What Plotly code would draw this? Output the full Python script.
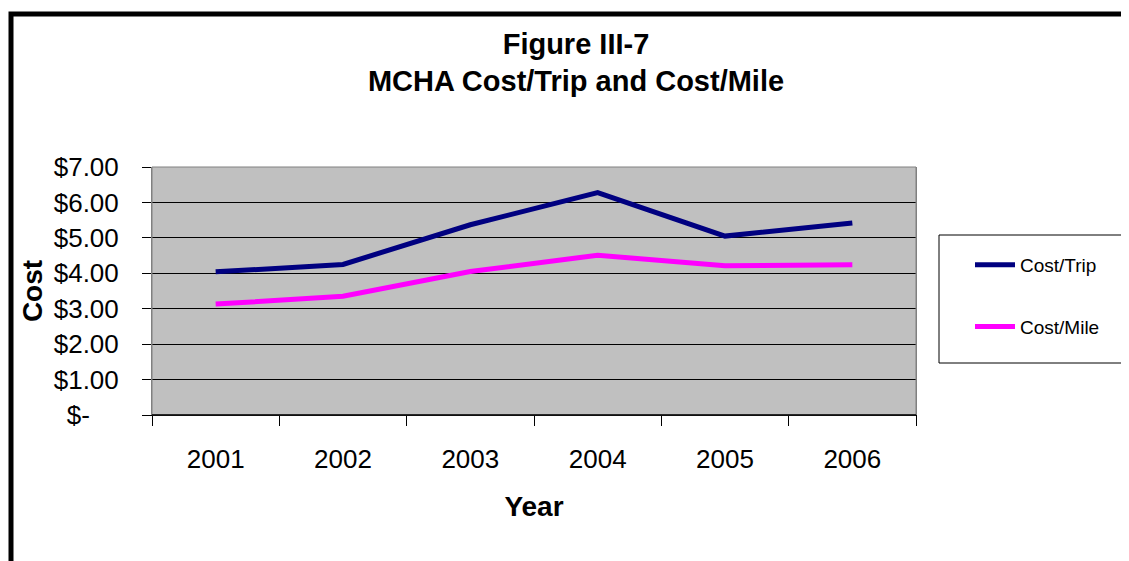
import plotly.graph_objects as go

years = ["2001", "2002", "2003", "2004", "2005", "2006"]
cost_trip = [4.04, 4.25, 5.37, 6.28, 5.05, 5.42]
cost_mile = [3.13, 3.35, 4.05, 4.51, 4.21, 4.24]
y_tickvals = [0, 1, 2, 3, 4, 5, 6, 7]
y_ticktext = ["$-\u00a0\u00a0\u00a0\u00a0", "$1.00", "$2.00", "$3.00", "$4.00", "$5.00", "$6.00", "$7.00"]

OX, OY = 8, 8  # page body margin offset
W, H = 1129, 561
L, R, T, B = 152 - OX, 916 - OX, 167 - OY, 415 - OY


def px(x):
    return (x - OX - L) / (R - L)


def py(y):
    return (B - (y - OY)) / (B - T)


FONT = "Arial, Liberation Sans, sans-serif"

fig = go.Figure()
fig.add_trace(go.Scatter(x=years, y=cost_trip, mode="lines", name="Cost/Trip",
                         line=dict(color="#000080", width=5), legendgroup="a"))
fig.add_trace(go.Scatter(x=years, y=cost_mile, mode="lines", name="Cost/Mile",
                         line=dict(color="#FF00FF", width=5), legendgroup="b"))

fig.update_layout(
    width=W, height=H,
    margin=dict(l=L, r=W - R, t=T, b=H - B),
    paper_bgcolor="white",
    plot_bgcolor="#C0C0C0",
    font=dict(family=FONT, color="black"),
    title=dict(text="<b>Figure III-7<br>MCHA Cost/Trip and Cost/Mile</b>",
               x=(576 - OX) / W, xanchor="center", y=1 - 45.5 / H, yanchor="middle",
               font=dict(size=29, family=FONT, color="black")),
    showlegend=True,
    legend=dict(x=px(970), xanchor="left", y=py(246), yanchor="top",
                bgcolor="rgba(0,0,0,0)", borderwidth=0,
                font=dict(size=19, family=FONT, color="black"),
                tracegroupgap=34, itemwidth=40),
    xaxis=dict(type="category", range=[-0.5, 5.5], tickson="boundaries",
               ticks="outside", ticklen=10,
               tickcolor="black", showline=True, linecolor="black", linewidth=1,
               showgrid=False, tickfont=dict(size=26), ticklabelstandoff=21,
               title=dict(text="<b>Year</b>", font=dict(size=28), standoff=23),
               fixedrange=True),
    yaxis=dict(range=[0, 7], tickvals=y_tickvals, ticktext=y_ticktext,
               ticks="outside", ticklen=9, tickcolor="black",
               showline=True, linecolor="#808080", linewidth=1, mirror=True,
               showgrid=True, gridcolor="black", gridwidth=1, zeroline=False,
               tickfont=dict(size=26), ticklabelstandoff=18,
               title=dict(text="<b>Cost</b>", font=dict(size=28), standoff=2),
               fixedrange=True),
    shapes=[
        dict(type="rect", xref="paper", yref="paper", x0=0, x1=1, y0=0, y1=1,
             line=dict(color="#808080", width=1), layer="above"),
        dict(type="line", xref="paper", yref="paper", x0=0, x1=1, y0=0, y1=0,
             line=dict(color="black", width=1.5), layer="above"),
        dict(type="rect", xref="paper", yref="paper", x0=px(939), x1=px(1145),
             y0=py(363), y1=py(235), line=dict(color="black", width=1),
             fillcolor="rgba(0,0,0,0)", layer="above"),
        dict(type="path", xref="paper", yref="paper",
             path=f"M {px(1150)},{py(14)} L {px(11)},{py(14)} L {px(11)},{py(580)}",
             line=dict(color="black", width=5), layer="above"),
    ],
)

fig.write_html("out.html")
